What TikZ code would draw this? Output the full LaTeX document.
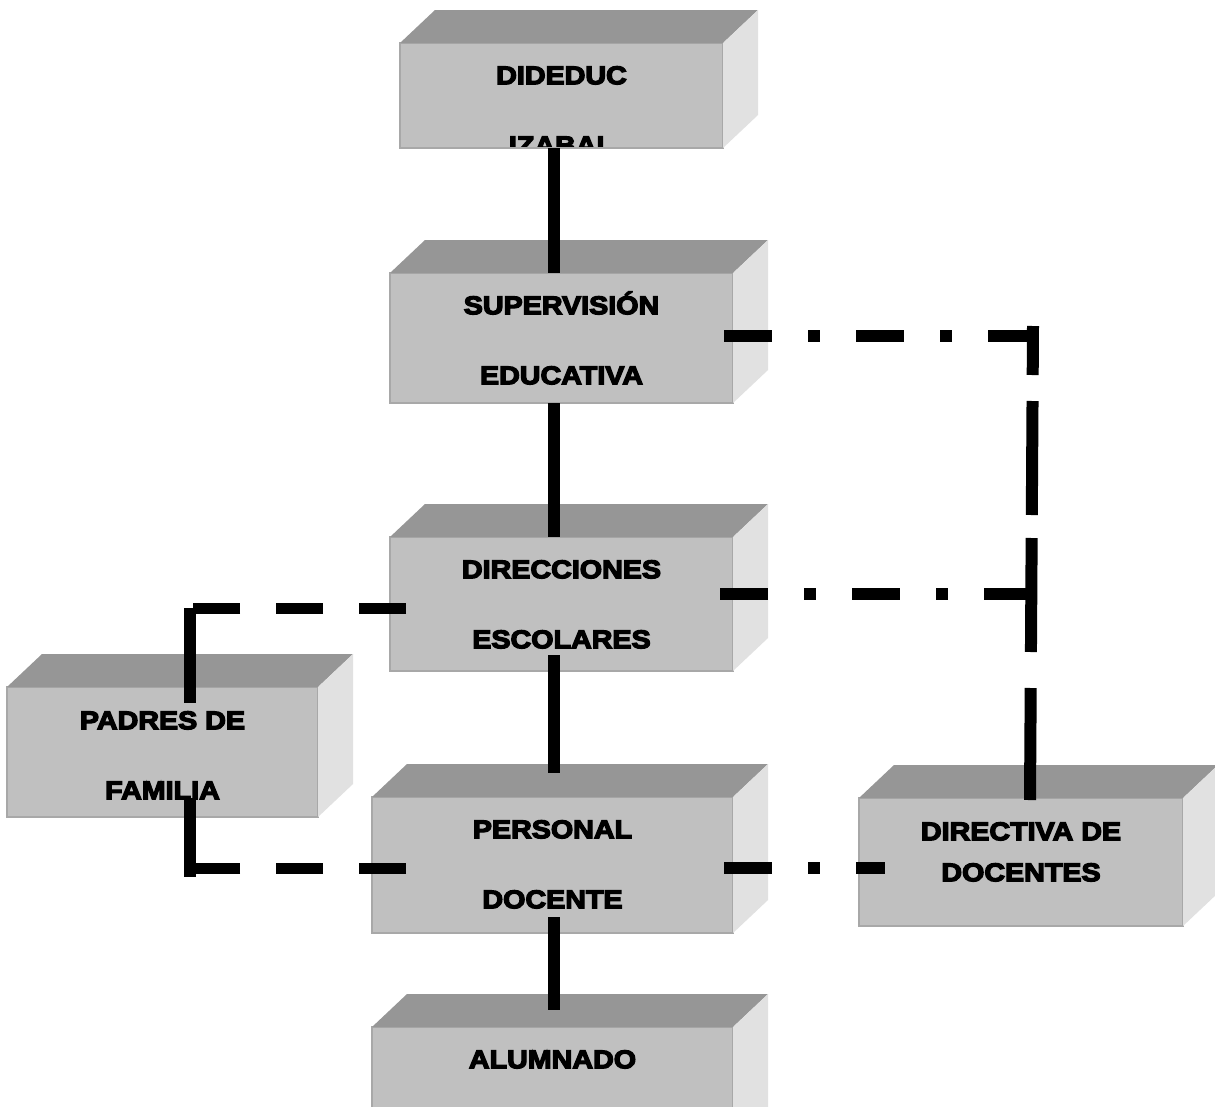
\documentclass[tikz,border=0pt]{standalone}
\usepackage{fontspec}
\newfontfamily\boxfont{Liberation Sans}[FakeStretch=1.12]
\usetikzlibrary{calc}
\definecolor{frontgray}{HTML}{C0C0C0}
\definecolor{topgray}{HTML}{969696}
\definecolor{sidegray}{HTML}{E1E1E1}
\definecolor{edgegray}{HTML}{A8A8A8}
\newcommand\heavytext[1]{\special{pdf:literal direct 0 G 2 Tr 1.3 w}#1\special{pdf:literal direct 0 Tr}}
\tikzset{
  cube/.style={rectangle, fill=frontgray, draw=edgegray, line width=1.2pt, inner sep=0pt, outer sep=0pt},
  lbl/.style={anchor=base, inner sep=0pt, font=\boxfont\bfseries\fontsize{25.6}{30}\selectfont, text=black},
  solidline/.style={line width=12pt},
  dashdotline/.style={line width=12pt, dash pattern=on 48pt off 36pt on 12pt off 36pt},
  dashline/.style={line width=11pt, dash pattern=on 47pt off 36pt},
  vdashline/.style={line width=12pt, dash pattern=on 49pt off 26pt on 114pt off 23pt on 114pt off 36pt on 130pt},
}
\newcommand\cubefaces[1]{%
  \fill[topgray] (#1.north west) -- ($(#1.north west)+(35,-33)$) -- ($(#1.north east)+(35,-33)$) -- (#1.north east) -- cycle;
  \fill[sidegray] (#1.north east) -- ($(#1.north east)+(35,-33)$) -- ($(#1.south east)+(35,-33)$) -- (#1.south east) -- cycle;}
\begin{document}
\begin{tikzpicture}[x=1pt, y=-1pt]
\useasboundingbox (0,0) rectangle (1215,1106);
\clip (0,0) rectangle (1215,1106);
\fill[white] (0,0) rectangle (1215,1106);

% boxes
\node[cube, minimum width=323pt, minimum height=105pt] (ded) at (561.5,95.5) {};
\cubefaces{ded}
\node[cube, minimum width=343pt, minimum height=130pt] (sup) at (561.5,338) {};
\cubefaces{sup}
\node[cube, minimum width=343pt, minimum height=134pt] (dir) at (561.5,604) {};
\cubefaces{dir}
\node[cube, minimum width=311pt, minimum height=130pt] (pad) at (162.5,752) {};
\cubefaces{pad}
\node[cube, minimum width=361pt, minimum height=136pt] (per) at (552.5,865) {};
\cubefaces{per}
\node[cube, minimum width=324pt, minimum height=128pt] (dtv) at (1021,862) {};
\cubefaces{dtv}
\node[cube, minimum width=361pt, minimum height=113pt] (alu) at (552.5,1083.5) {};
\cubefaces{alu}

% texts
\node[lbl] (ded1) at (561.5,84.2) {\heavytext{DIDEDUC}};
\begin{scope}
  \clip ($(ded.south west)+(0,-1.5)$) rectangle (ded.north east);
  \node[lbl] (ded2) at (561.5,154.2) {\heavytext{IZABAL}};
\end{scope}
\node[lbl] (sup1) at (561.5,314.2) {\heavytext{SUPERVISIÓN}};
\node[lbl] (sup2) at (561.5,384.2) {\heavytext{EDUCATIVA}};
\node[lbl] (dir1) at (561.5,578.2) {\heavytext{DIRECCIONES}};
\node[lbl] (dir2) at (561.5,648.2) {\heavytext{ESCOLARES}};
\node[lbl] (pad1) at (162.5,729.2) {\heavytext{PADRES DE}};
\node[lbl] (pad2) at (162.5,799.2) {\heavytext{FAMILIA}};
\node[lbl] (per1) at (552.5,838.2) {\heavytext{PERSONAL}};
\node[lbl] (per2) at (552.5,908.2) {\heavytext{DOCENTE}};
\node[lbl] (dtv1) at (1021,840.2) {\heavytext{DIRECTIVA DE}};
\node[lbl] (dtv2) at (1021,881.2) {\heavytext{DOCENTES}};
\node[lbl] (alu1) at (552.5,1068.2) {\heavytext{ALUMNADO}};

% solid spine
\coordinate (spine) at (554,0);
\draw[solidline] (ded.south -| spine) -- (sup.north -| spine);
\draw[solidline] (sup.south -| spine) -- (dir.north -| spine);
\draw[solidline] ($(dir.south -| spine)+(0,-16)$) -- ($(per.north -| spine)+(0,-24)$);
\draw[solidline] ($(per.south -| spine)+(0,-16)$) -- ($(alu.north -| spine)+(0,-17)$);

% right dash-dot connectors
\coordinate (rtop) at (1034,336);
\coordinate (rmid) at (1032,594);
\coordinate (rvtop) at (1033,326);
\draw[dashdotline] ($(sup.east)+(-9,-2)$) -- (rtop);
\draw[dashdotline] ($(dir.east)+(-13,-10)$) -- (rmid);
\draw[dashdotline] ($(per.east)+(-9,3)$) -- ($(dtv.west)+(26,6)$);
\draw[vdashline] (rvtop) -- ($(dtv.north)+(9,2)$);

% left dashed connectors
\coordinate (ltop) at (190,608);
\coordinate (lbot) at (190,868);
\draw[dashline] ($(dir.west)+(16,4)$) -- (ltop);
\draw[line width=12pt] (ltop) -- ($(pad.north -| ltop)+(0,16)$);
\draw[line width=12pt] ($(pad.south -| lbot)+(0,-19)$) -- ($(lbot)+(0,9)$);
\draw[dashline] ($(per.west)+(34,3)$) -- (lbot);
\end{tikzpicture}
\end{document}
